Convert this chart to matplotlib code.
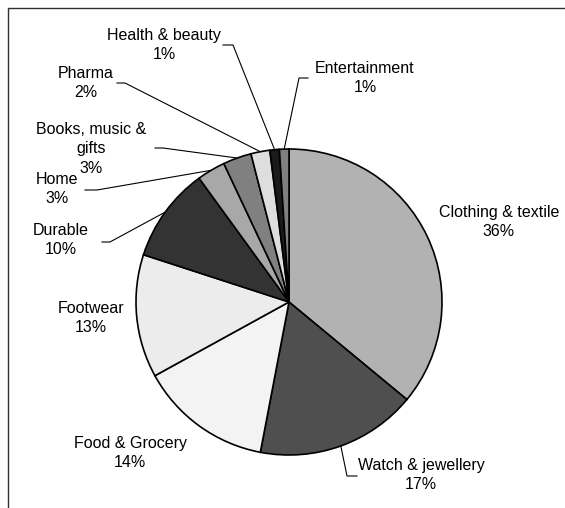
import math

import matplotlib
matplotlib.use("Agg")
import matplotlib.pyplot as plt
from matplotlib.patches import Rectangle

W, H = 565, 508

categorias = [
    "Clothing & textile", "Watch & jewellery", "Food & Grocery", "Footwear",
    "Durable", "Home", "Books, music &\ngifts", "Pharma", "Health & beauty",
    "Entertainment",
]
percentuais = [36, 17, 14, 13, 10, 3, 3, 2, 1, 1]
cores = [
    "#b2b2b2", "#4f4f4f", "#f3f3f3", "#ececec", "#333333",
    "#a8a8a8", "#808080", "#dedede", "#1a1a1a", "#808080",
]

# posicao do texto (pixels da imagem) e ponto onde comeca a linha guia (ou None)
layout = {
    "Clothing & textile": ((499, 222), None),
    "Watch & jewellery": ((421, 475), ((357, 476), (347, 476))),
    "Food & Grocery": ((130, 453), None),
    "Footwear": ((91, 318), None),
    "Durable": ((61, 240), ((102, 242), (110, 242))),
    "Home": ((57, 189), ((85, 190), (97, 190))),
    "Books, music &\ngifts": ((91, 149), ((155, 148), (163, 148))),
    "Pharma": ((86, 83), ((117, 83), (125, 83))),
    "Health & beauty": ((164, 45), ((223, 45), (233, 45))),
    "Entertainment": ((365, 78), ((308, 78), (299, 78))),
}

CX, CY, R = 289, 302, 153

fig = plt.figure(figsize=(W / 100, H / 100), dpi=100)
ax = fig.add_axes([0, 0, 1, 1])

ax.add_patch(Rectangle((8, -10), W + 20, H - 8 + 10, fill=False,
                       edgecolor="#303030", linewidth=1.0))

fatias, _ = ax.pie(
    percentuais,
    colors=cores,
    startangle=90,
    counterclock=False,
    center=(CX, H - CY),
    radius=R,
    wedgeprops=dict(edgecolor="black", linewidth=1.2),
    frame=True,
)
ax.set_xlim(0, W)
ax.set_ylim(0, H)
ax.set_aspect("equal")
ax.axis("off")

for fatia, cat, pct in zip(fatias, categorias, percentuais):
    (tx, ty), guia = layout[cat]
    ax.text(tx, H - ty, f"{cat}\n{pct}%", ha="center", va="center",
            fontsize=11.5, family="Liberation Sans", linespacing=1.4)
    if guia is not None:
        ang = math.radians((fatia.theta1 + fatia.theta2) / 2)
        px = fatia.center[0] + fatia.r * math.cos(ang)
        py = fatia.center[1] + fatia.r * math.sin(ang)
        (x0, y0), (x1, y1) = guia
        ax.plot([x0, x1, px], [H - y0, H - y1, py], color="black",
                linewidth=0.8, solid_joinstyle="miter")

fig.savefig("out.png", dpi=100)
